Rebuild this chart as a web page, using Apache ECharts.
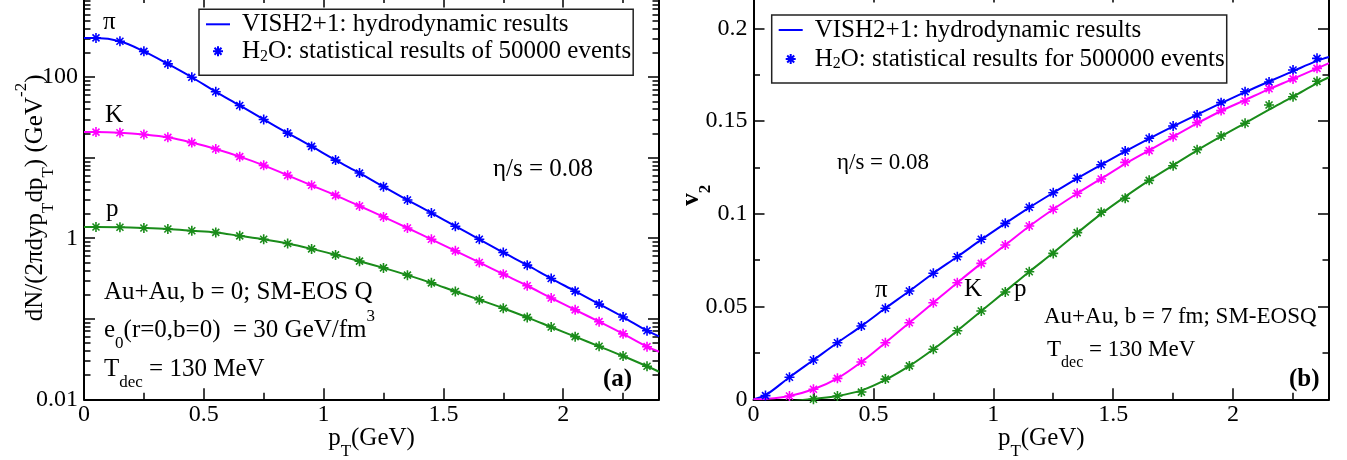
<!DOCTYPE html>
<html>
<head>
<meta charset="utf-8">
<script src="https://cdn.jsdelivr.net/npm/echarts@6/dist/echarts.min.js"></script>
<style>
  html, body { margin: 0; padding: 0; background: #fff; }
  #chart { width: 1347px; height: 460px; }
</style>
</head>
<body>
<div id="chart"></div>
<script>
// ---------------- data ----------------
const PT = [0.05, 0.15, 0.25, 0.35, 0.45, 0.55, 0.65, 0.75, 0.85, 0.95, 1.05, 1.15,
            1.25, 1.35, 1.45, 1.55, 1.65, 1.75, 1.85, 1.95, 2.05, 2.15, 2.25, 2.35];

// (a) spectra dN/(2pi dy pT dpT), H2O points
const PI_SPEC = [307, 279, 209, 146, 99.7, 65.8, 44.5, 29.8, 20.2, 13.8, 9.33, 6.44,
                 4.37, 2.98, 2.06, 1.41, 0.97, 0.665, 0.463, 0.316, 0.220, 0.152, 0.105, 0.071];
const K_SPEC  = [20.8, 20.4, 19.4, 17.9, 15.4, 12.8, 10.3, 8.03, 6.04, 4.54, 3.41, 2.51,
                 1.84, 1.34, 0.97, 0.697, 0.50, 0.358, 0.257, 0.181, 0.129, 0.092, 0.065, 0.045];
const P_SPEC  = [1.38, 1.37, 1.34, 1.30, 1.24, 1.18, 1.07, 0.97, 0.86, 0.737, 0.621, 0.519,
                 0.428, 0.348, 0.279, 0.218, 0.172, 0.135, 0.104, 0.079, 0.060, 0.0455, 0.0345, 0.0257];
// hydro curve end values (pT = 0 and pT = 2.4)
const SPEC_START = { pi: 307, K: 20.8, p: 1.38 };
const SPEC_END   = { pi: 0.0605, K: 0.039, p: 0.022 };

// (b) elliptic flow v2, H2O points
const PI_V2 = [0.002, 0.0119, 0.0212, 0.0305, 0.0395, 0.0491, 0.0584, 0.0680, 0.0769, 0.0863, 0.0949, 0.1036,
               0.1114, 0.1192, 0.1265, 0.1339, 0.1408, 0.1474, 0.1533, 0.1600, 0.1659, 0.1711, 0.1776, 0.1839];
const K_PT = PT.slice(1);
const K_V2 = [0.0018, 0.0054, 0.0113, 0.0201, 0.0305, 0.0413, 0.0521, 0.0629, 0.0733, 0.0832, 0.0935,
              0.1025, 0.1111, 0.1188, 0.1278, 0.1341, 0.1416, 0.1492, 0.1557, 0.1609, 0.1675, 0.1728, 0.1785];
const P_PT = PT.slice(2);
const P_V2 = [0.0, 0.0018, 0.0039, 0.0109, 0.0180, 0.0270, 0.0370, 0.0476, 0.0579, 0.0688, 0.0787,
              0.0899, 0.1009, 0.1084, 0.1181, 0.1260, 0.1346, 0.1420, 0.1489, 0.1587, 0.1632, 0.1715];
// (b) hydro curves
const PI_V2_LINE = [[0, 0], [0.05, 0.0022], [0.15, 0.0119], [0.25, 0.0212], [0.35, 0.0305], [0.45, 0.0395],
  [0.55, 0.0491], [0.65, 0.0584], [0.75, 0.0680], [0.85, 0.0769], [0.95, 0.0861], [1.05, 0.0949], [1.15, 0.1034],
  [1.25, 0.1114], [1.35, 0.1192], [1.45, 0.1265], [1.55, 0.1337], [1.65, 0.1406], [1.75, 0.1472], [1.85, 0.1535],
  [1.95, 0.1597], [2.05, 0.1657], [2.15, 0.1714], [2.25, 0.1770], [2.35, 0.1825], [2.4, 0.1846]];
const K_V2_LINE = [[0, 0], [0.05, 0.0002], [0.15, 0.0018], [0.25, 0.0054], [0.35, 0.0113], [0.45, 0.0201],
  [0.55, 0.0305], [0.65, 0.0413], [0.75, 0.0521], [0.85, 0.0629], [0.95, 0.0733], [1.05, 0.0832], [1.15, 0.0933],
  [1.25, 0.1025], [1.35, 0.1110], [1.45, 0.1190], [1.55, 0.1270], [1.65, 0.1343], [1.75, 0.1416], [1.85, 0.1488],
  [1.95, 0.1555], [2.05, 0.1614], [2.15, 0.1673], [2.25, 0.1728], [2.35, 0.1785], [2.4, 0.1813]];
const P_V2_LINE = [[0, -0.002], [0.05, -0.002], [0.15, -0.0012], [0.25, 0.0003], [0.35, 0.0018], [0.45, 0.0048],
  [0.55, 0.0105], [0.65, 0.0180], [0.75, 0.0270], [0.85, 0.0370], [0.95, 0.0476], [1.05, 0.0582], [1.15, 0.0688],
  [1.25, 0.0790], [1.35, 0.0897], [1.45, 0.1000], [1.55, 0.1093], [1.65, 0.1181], [1.75, 0.1262], [1.85, 0.1343],
  [1.95, 0.1418], [2.05, 0.1490], [2.15, 0.1562], [2.25, 0.1632], [2.35, 0.1705], [2.4, 0.1737]];

// ticks
const X_MAJOR = [0, 0.5, 1, 1.5, 2];
const X_MINOR = [0.25, 0.75, 1.25, 1.75, 2.25];
const SPEC_LABELS = [0.01, 1, 100];
const SPEC_MAJOR = [0.01, 0.1, 1, 10, 100, 1000];
const SPEC_MINOR = [];
for (let d = 0.01; d < 999; d *= 10) for (let m = 2; m <= 9; m++) SPEC_MINOR.push(+(d * m).toPrecision(3));
const V2_MAJOR = [0, 0.05, 0.1, 0.15, 0.2];
const V2_MINOR = [0.025, 0.075, 0.125, 0.175];

// ---------------- styles ----------------
const FONT = 'Liberation Serif';
const BLUE = '#0000ff', MAGENTA = '#ff00ff', GREEN = '#1a8c1a';
const STAR = 'path://M5,0L5,10M0,5L10,5M1.5,1.5L8.5,8.5M1.5,8.5L8.5,1.5';
const LINE_ICON = 'path://M0,0L24,0L24,2L0,2Z';
const RICH = {
  sub: { fontFamily: FONT, fontSize: 17, lineHeight: 18, verticalAlign: 'bottom', color: '#000' },
  sup: { fontFamily: FONT, fontSize: 17, lineHeight: 26, verticalAlign: 'top', color: '#000' },
  b:   { fontFamily: FONT, fontSize: 25, lineHeight: 44, fontWeight: 'bold', color: '#000' },
  bs:  { fontFamily: FONT, fontSize: 17, lineHeight: 18, verticalAlign: 'bottom', fontWeight: 'bold', color: '#000' }
};
const RICH_SMALL = {
  sub: { fontFamily: FONT, fontSize: 16, lineHeight: 18, verticalAlign: 'bottom', color: '#000' }
};

const HYDRO = 'VISH2+1: hydrodynamic results';
const LEG_NAMES = {
  'hydroA': '{sp| }{n|' + HYDRO + '}',
  'h2oA': '{sp| }{n|H}{s|2}{n|O: statistical results of 50000 events}',
  'hydroB': '{sp| }{n|' + HYDRO + '}',
  'h2oB': '{sp| }{n|H}{s|2}{n|O: statistical results for 500000 events}'
};

function pairs(xs, ys) { return xs.map((x, i) => [x, ys[i]]); }

function axisSet(grid, type, yMin, yMax, yMajor, yMinor, yLabels, xName, yName, xGap, yGap) {
  const tickLine = { color: '#000', width: 1.5 };
  const labelStyle = { fontFamily: FONT, fontSize: 24, color: '#000' };
  const nameStyle = { fontFamily: FONT, fontSize: 25, color: '#000', lineHeight: 44, rich: RICH };
  const fmt = v => String(+(+v).toPrecision(6));
  const xs = [], ys = [];
  [['bottom', true], ['top', false]].forEach(([pos, labels]) => {
    xs.push({
      gridIndex: grid, type: 'value', position: pos, min: 0, max: 2.4,
      axisLine: { show: true, onZero: false, lineStyle: { color: '#000', width: 2 } },
      axisTick: { show: true, inside: true, length: 11, lineStyle: tickLine, customValues: X_MAJOR },
      axisLabel: { show: labels, margin: 3, customValues: X_MAJOR, formatter: fmt, ...labelStyle },
      splitLine: { show: false },
      name: labels ? xName : '', nameLocation: 'middle', nameGap: xGap, nameMoveOverlap: false,
      nameTextStyle: nameStyle
    });
    xs.push({
      gridIndex: grid, type: 'value', position: pos, min: 0, max: 2.4,
      axisLine: { show: false, onZero: false },
      axisTick: { show: true, inside: true, length: 6.5, lineStyle: tickLine, customValues: X_MINOR },
      axisLabel: { show: false }, splitLine: { show: false }
    });
  });
  [['left', true], ['right', false]].forEach(([pos, labels]) => {
    ys.push({
      gridIndex: grid, type: type, position: pos, min: yMin, max: yMax,
      axisLine: { show: true, onZero: false, lineStyle: { color: '#000', width: 2 } },
      axisTick: { show: true, inside: true, length: 11, lineStyle: tickLine, customValues: yMajor },
      axisLabel: { show: labels, margin: 6, customValues: yLabels, formatter: fmt, ...labelStyle },
      splitLine: { show: false },
      name: labels ? yName : '', nameLocation: 'middle', nameGap: yGap, nameMoveOverlap: false,
      nameTextStyle: nameStyle
    });
    ys.push({
      gridIndex: grid, type: type, position: pos, min: yMin, max: yMax,
      axisLine: { show: false, onZero: false },
      axisTick: { show: true, inside: true, length: 6.5, lineStyle: tickLine, customValues: yMinor },
      axisLabel: { show: false }, splitLine: { show: false }
    });
  });
  return { xs, ys };
}

const A = axisSet(0, 'log', 0.01, 1000, SPEC_MAJOR, SPEC_MINOR, SPEC_LABELS,
  'p{sub|T}(GeV)', 'dN/(2πdyp{sub|T}dp{sub|T}) (GeV{sup|-2})', 16.7, 27);
const B = axisSet(1, 'value', 0, 0.22, V2_MAJOR, V2_MINOR, V2_MAJOR,
  'p{sub|T}(GeV)', '{b|v}{bs|2}', 16.7, 39.5);

function lineSeries(name, xi, yi, data, color) {
  return { type: 'line', name, xAxisIndex: xi, yAxisIndex: yi, data, smooth: 0.35, symbol: 'none',
           lineStyle: { color, width: 2 }, itemStyle: { color }, z: 3, clip: true, silent: true };
}
function starSeries(name, xi, yi, data, color) {
  return { type: 'scatter', name, xAxisIndex: xi, yAxisIndex: yi, data, symbol: STAR, symbolSize: 10,
           symbolKeepAspect: true,
           itemStyle: { color: color, borderColor: color, borderWidth: 1.6, opacity: 1 }, z: 4, clip: true, silent: true };
}

const series = [
  lineSeries('hydroA', 0, 0, [[0, SPEC_START.pi], ...pairs(PT, PI_SPEC), [2.4, SPEC_END.pi]], BLUE),
  lineSeries('hydroA-K', 0, 0, [[0, SPEC_START.K], ...pairs(PT, K_SPEC), [2.4, SPEC_END.K]], MAGENTA),
  lineSeries('hydroA-p', 0, 0, [[0, SPEC_START.p], ...pairs(PT, P_SPEC), [2.4, SPEC_END.p]], GREEN),
  starSeries('h2oA', 0, 0, pairs(PT, PI_SPEC), BLUE),
  starSeries('h2oA-K', 0, 0, pairs(PT, K_SPEC), MAGENTA),
  starSeries('h2oA-p', 0, 0, pairs(PT, P_SPEC), GREEN),
  lineSeries('hydroB', 4, 4, PI_V2_LINE, BLUE),
  lineSeries('hydroB-K', 4, 4, K_V2_LINE, MAGENTA),
  lineSeries('hydroB-p', 4, 4, P_V2_LINE, GREEN),
  starSeries('h2oB', 4, 4, pairs(PT, PI_V2), BLUE),
  starSeries('h2oB-K', 4, 4, pairs(K_PT, K_V2), MAGENTA),
  starSeries('h2oB-p', 4, 4, pairs(P_PT, P_V2), GREEN)
];

function legend(left, top, names, gap) {
  return {
    show: true, orient: 'vertical', left, top, itemGap: gap,
    data: [{ name: names[0], icon: LINE_ICON }, { name: names[1] }],
    itemWidth: 24, itemHeight: 10, selectedMode: false, symbolKeepAspect: true,
    backgroundColor: '#fff', borderColor: '#222', borderWidth: 1.5, borderRadius: 0,
    padding: [2, 2, 11, 7],
    formatter: n => LEG_NAMES[n],
    textStyle: {
      fontFamily: FONT, fontSize: 25, color: '#000', lineHeight: 26,
      rich: {
        sp: { fontFamily: FONT, fontSize: 25, width: 7, lineHeight: 26 },
        n: { fontFamily: FONT, fontSize: 25, color: '#000', lineHeight: 26 },
        s: { fontFamily: FONT, fontSize: 16, color: '#000', lineHeight: 14, verticalAlign: 'bottom' }
      }
    }
  };
}

function txt(x, y, text, extra) {
  return {
    type: 'text', x, y, silent: true, z: 10,
    style: Object.assign({
      text, fontFamily: FONT, fontSize: 25, fill: '#000', lineHeight: 44,
      align: 'left', verticalAlign: 'middle', rich: RICH
    }, extra || {})
  };
}
const SMALL = { fontSize: 23, lineHeight: 42, rich: RICH_SMALL };

const graphics = [
  txt(103, 22, 'π'),
  txt(105, 115, 'K'),
  txt(106, 209, 'p'),
  txt(493, 169, 'η/s = 0.08'),
  txt(104, 292, 'Au+Au, b = 0; SM-EOS Q'),
  txt(104, 330, 'e{sub|0}(r=0,b=0)  = 30 GeV/fm{sup|3}'),
  txt(104, 369, 'T{sub|dec} = 130 MeV'),
  txt(603, 380, '(a)', { fontWeight: 'bold' }),
  txt(837, 163, 'η/s = 0.08', SMALL),
  txt(875, 290, 'π'),
  txt(964, 289, 'K'),
  txt(1014, 289, 'p'),
  txt(1044, 317, 'Au+Au, b = 7 fm; SM-EOSQ', SMALL),
  txt(1047, 350, 'T{sub|dec} = 130 MeV', SMALL),
  txt(1289, 380, '(b)', { fontWeight: 'bold' })
];

const chart = echarts.init(document.getElementById('chart'), null, { renderer: 'canvas' });
chart.setOption({
  animation: false,
  backgroundColor: '#fff',
  textStyle: { fontFamily: FONT },
  grid: [
    { left: 84, top: -3.4, width: 575, height: 402.7, containLabel: false, outerBoundsMode: 'none' },
    { left: 753.5, top: -8.6, width: 575.5, height: 407.9, containLabel: false, outerBoundsMode: 'none' }
  ],
  xAxis: [...A.xs, ...B.xs],
  yAxis: [...A.ys, ...B.ys],
  legend: [
    legend(199, 9.3, ['hydroA', 'h2oA'], 1),
    legend(771.7, 15, ['hydroB', 'h2oB'], 3)
  ],
  series,
  graphic: graphics
});
</script>
</body>
</html>
